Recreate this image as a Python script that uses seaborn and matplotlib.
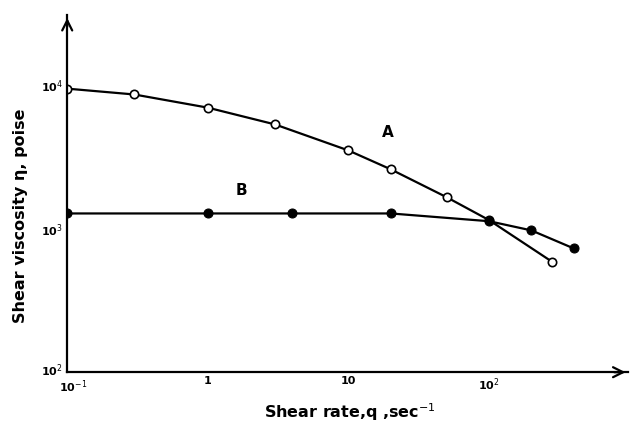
import numpy as np
import pandas as pd
import seaborn as sns
import matplotlib
matplotlib.use("Agg")
import matplotlib.pyplot as plt
from matplotlib.transforms import ScaledTranslation

# Data
shear_a = [0.1, 0.3, 1, 3, 10, 20, 50, 100, 280]
visc_a = [9500, 8650, 7000, 5350, 3520, 2600, 1660, 1150, 590]
shear_b = [0.1, 1, 4, 20, 100, 200, 400]
visc_b = [1280, 1280, 1280, 1280, 1130, 975, 730]

x_ticks = [0.1, 1, 10, 100]
x_labels = ["10$^{-1}$", "1", "10", "10$^{2}$"]
y_ticks = [100, 1000, 10000]
y_labels = ["10$^{2}$", "10$^{3}$", "10$^{4}$"]

sns.set_theme(style="white")
plt.rcParams["font.family"] = ["DejaVu Sans"]
plt.rcParams["text.color"] = "black"
plt.rcParams["axes.labelcolor"] = "black"

fig = plt.figure(figsize=(6.34, 4.22), dpi=100)
ax = fig.add_axes([0.106, 0.118, 0.885, 0.846])

df_a = pd.DataFrame({"x": shear_a, "y": visc_a})
df_b = pd.DataFrame({"x": shear_b, "y": visc_b})

sns.lineplot(data=df_a, x="x", y="y", ax=ax, color="black", lw=1.6,
             marker="o", markersize=6, markerfacecolor="white",
             markeredgecolor="black", markeredgewidth=1.2)
sns.lineplot(data=df_b, x="x", y="y", ax=ax, color="black", lw=1.6,
             marker="o", markersize=6.5, markerfacecolor="black",
             markeredgecolor="black")

ax.set_xscale("log")
ax.set_yscale("log")
ax.set_xlim(0.1, 10**2.99)
ax.set_ylim(100, 10**4.49)

ax.set_xticks(x_ticks)
ax.set_xticklabels(x_labels, fontsize=8, fontweight="bold")
ax.set_yticks(y_ticks)
ax.set_yticklabels(y_labels, fontsize=8, fontweight="bold")
ax.minorticks_off()
ax.tick_params(axis="both", direction="in", length=4, width=1, pad=3,
               colors="black")

# small offsets so the corner labels do not collide (as in the reference)
xl = ax.get_xticklabels()[0]
xl.set_transform(xl.get_transform() + ScaledTranslation(6 / 100, -2 / 100, fig.dpi_scale_trans))
yl = ax.get_yticklabels()[0]
yl.set_transform(yl.get_transform() + ScaledTranslation(0, 3 / 100, fig.dpi_scale_trans))

for s in ["top", "right"]:
    ax.spines[s].set_visible(False)
for s in ["left", "bottom"]:
    ax.spines[s].set_color("black")
    ax.spines[s].set_linewidth(1.6)

# arrowheads on axes
ax.annotate("", xy=(1.0, 0), xycoords="axes fraction",
            xytext=(0.97, 0), textcoords="axes fraction",
            arrowprops=dict(arrowstyle="->", color="black", lw=1.6,
                            mutation_scale=18))
ax.annotate("", xy=(0, 1.0), xycoords="axes fraction",
            xytext=(0, 0.96), textcoords="axes fraction",
            arrowprops=dict(arrowstyle="->", color="black", lw=1.6,
                            mutation_scale=18))

ax.set_xlabel("Shear rate,q ,sec$^{-1}$", fontsize=11.5, fontweight="bold")
ax.xaxis.set_label_coords(0.503, -0.082)
ax.set_ylabel("Shear viscosity η, poise", fontsize=11.5, fontweight="bold")
ax.yaxis.set_label_coords(-0.070, 0.437)

ax.text(19, 4700, "A", fontsize=11, fontweight="bold", ha="center", va="center")
ax.text(1.73, 1860, "B", fontsize=11, fontweight="bold", ha="center", va="center")

fig.savefig("out.png", dpi=100)
